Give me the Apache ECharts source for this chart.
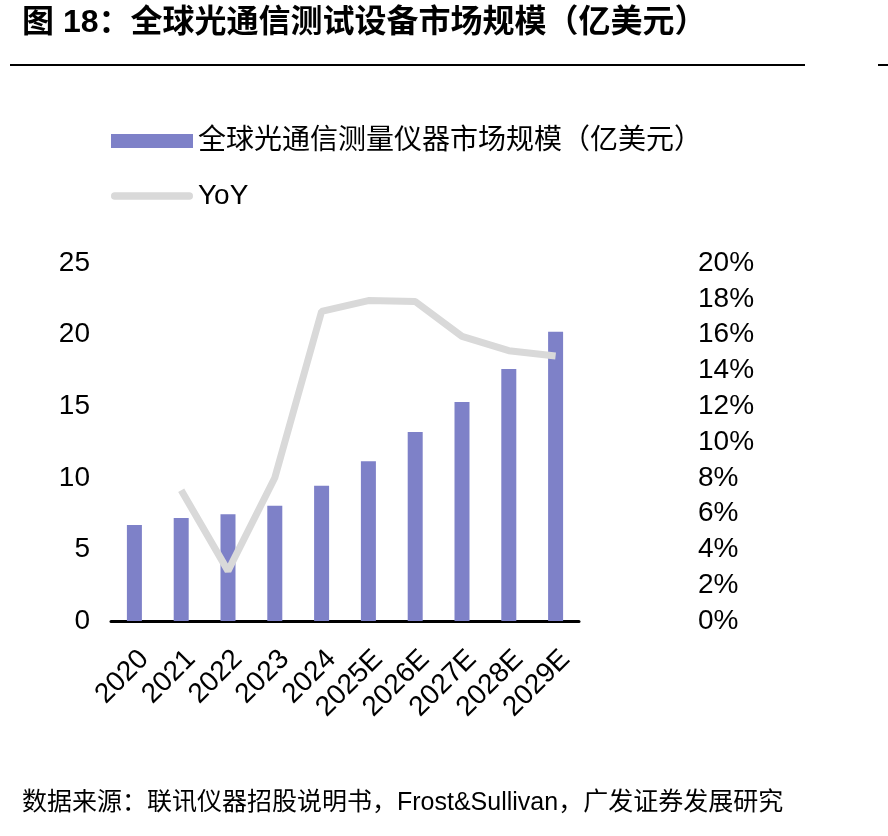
<!DOCTYPE html>
<html>
<head>
<meta charset="utf-8">
<script src="https://cdn.jsdelivr.net/npm/echarts@6/dist/echarts.min.js"></script>
<style>
  html, body { margin: 0; padding: 0; background: #fff; }
  #chart { width: 888px; height: 836px; }
</style>
</head>
<body>
<div id="chart"></div>
<script>
// 数据
const years = ['2020', '2021', '2022', '2023', '2024', '2025E', '2026E', '2027E', '2028E', '2029E']
const marketSize = [6.7, 7.2, 7.45, 8.05, 9.45, 11.15, 13.2, 15.3, 17.6, 20.2]
const yoy = [null, 7.3, 2.8, 8.0, 17.3, 17.9, 17.85, 15.9, 15.1, 14.8]

const FONT = '"Liberation Sans", Arial, "Noto Sans CJK SC", sans-serif'

const chart = echarts.init(document.getElementById('chart'))

const option = {
    backgroundColor: '#fff',
    textStyle: { fontFamily: FONT },
    animation: false,
    graphic: [
        {
            type: 'text', left: 22, top: 7,
            style: { text: '图 18：全球光通信测试设备市场规模（亿美元）', font: 'bold 32px ' + FONT, fill: '#000' }
        },
        { type: 'rect', shape: { x: 10, y: 64, width: 795, height: 2 }, style: { fill: '#000' } },
        { type: 'rect', shape: { x: 878, y: 64, width: 10, height: 2 }, style: { fill: '#000' } },
        {
            type: 'text', left: 22, top: 791,
            style: { text: '数据来源：联讯仪器招股说明书，Frost&Sullivan，广发证券发展研究', font: '25px ' + FONT, fill: '#000' }
        }
    ],
    legend: {
        orient: 'vertical',
        left: 106,
        top: 122,
        itemWidth: 82,
        itemHeight: 14,
        itemGap: 27,
        textStyle: { fontSize: 28, color: '#000', fontFamily: FONT, padding: [0, 0, 0, 0] },
        data: [
            { name: '全球光通信测量仪器市场规模（亿美元）', icon: 'rect' },
            {
                name: 'YoY',
                icon: 'path://M4,0 L84,0 A4,4 0 0 1 84,8 L4,8 A4,4 0 0 1 4,0 Z',
                itemStyle: { color: '#d9d9d9', borderWidth: 0 }
            }
        ]
    },
    grid: { left: 111, right: 309, top: 263, bottom: 215 },
    xAxis: {
        type: 'category',
        data: years,
        axisLine: { lineStyle: { color: '#000', width: 3 } },
        axisTick: { show: false },
        axisLabel: { rotate: 45, fontSize: 28, color: '#000', margin: 24, interval: 0, verticalAlign: 'top' }
    },
    yAxis: [
        {
            type: 'value', min: 0, max: 25, interval: 5,
            splitLine: { show: false },
            axisLine: { show: false }, axisTick: { show: false },
            axisLabel: { fontSize: 28, color: '#000', margin: 21 }
        },
        {
            type: 'value', min: 0, max: 20, interval: 2,
            splitLine: { show: false },
            axisLine: { show: false }, axisTick: { show: false },
            axisLabel: { fontSize: 28, color: '#000', margin: 119, formatter: '{value}%' }
        }
    ],
    series: [
        {
            name: '全球光通信测量仪器市场规模（亿美元）',
            type: 'bar',
            data: marketSize,
            barWidth: 15,
            itemStyle: { color: '#7e81c8' }
        },
        {
            name: 'YoY',
            type: 'line',
            yAxisIndex: 1,
            data: yoy,
            symbol: 'none',
            lineStyle: { color: '#d9d9d9', width: 7 },
            itemStyle: { color: '#d9d9d9' }
        }
    ]
}

chart.setOption(option)
</script>
</body>
</html>
